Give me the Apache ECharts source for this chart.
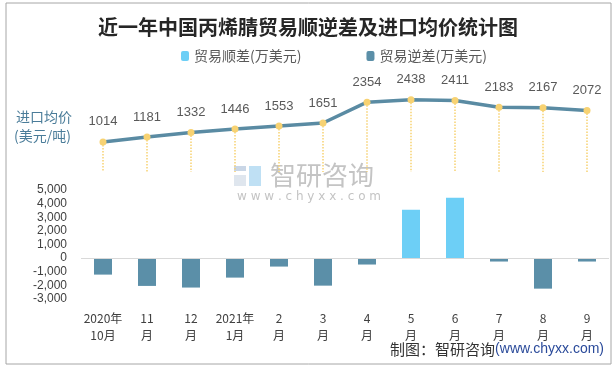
<!DOCTYPE html>
<html>
<head>
<meta charset="utf-8">
<script src="https://cdn.jsdelivr.net/npm/echarts@6/dist/echarts.min.js"></script>
<style>html,body{margin:0;padding:0;background:#fff}#c{width:616px;height:369px}</style>
</head>
<body>
<div id="c"></div>
<script>
const categories = ['2020年\n10月','11\n月','12\n月','2021年\n1月','2\n月','3\n月','4\n月','5\n月','6\n月','7\n月','8\n月','9\n月'];
const surplus = [null,null,null,null,null,null,null,3550,4430,null,null,null];
const deficit = [-1210,-2040,-2160,-1430,-620,-2020,-470,null,null,-250,-2240,-250];
const avgPrice = [1014,1181,1332,1446,1553,1651,2354,2438,2411,2183,2167,2072];
const barTicks = {min:-3000, max:5000, interval:1000};

const FONT = '"Noto Sans CJK SC","Microsoft YaHei",sans-serif';
const chart = echarts.init(document.getElementById('c'), null, {renderer:'canvas'});

const dropLines = avgPrice.map((v,i)=>[{xAxis:i, yAxis:v},{xAxis:i, yAxis:0}]);

chart.setOption({
  animation:false,
  backgroundColor:'#fff',
  textStyle:{fontFamily:FONT},
  title:{
    text:'近一年中国丙烯腈贸易顺逆差及进口均价统计图',
    left:'center', top:12,
    textStyle:{fontSize:20, fontWeight:'bold', color:'#262626', fontFamily:FONT}
  },
  legend:{
    top:44, left:176, itemWidth:8, itemHeight:10, itemGap:65,
    textStyle:{fontSize:14, color:'#595959', fontFamily:FONT},
    data:['贸易顺差(万美元)','贸易逆差(万美元)']
  },
  grid:[
    {left:81, right:7, top:83, height:89},
    {left:81, right:7, top:190, height:109}
  ],
  xAxis:[
    {gridIndex:0, type:'category', data:categories, show:false, boundaryGap:true},
    {gridIndex:1, type:'category', data:categories, boundaryGap:true,
     axisLine:{show:false, onZero:false}, axisTick:{show:false},
     axisLabel:{margin:11, fontSize:12, lineHeight:17, color:'#404040', fontFamily:FONT, interval:0}}
  ],
  yAxis:[
    {gridIndex:0, type:'value', min:0, max:3000, show:false},
    {gridIndex:1, type:'value', min:barTicks.min, max:barTicks.max, interval:barTicks.interval,
     axisLine:{show:false}, axisTick:{show:false}, splitLine:{show:false},
     axisLabel:{fontSize:12, color:'#404040', margin:14, fontFamily:'"Liberation Sans",Arial,sans-serif',
       formatter:v=>v.toLocaleString('en-US')}}
  ],
  series:[
    {
      name:'进口均价', type:'line', xAxisIndex:0, yAxisIndex:0, data:avgPrice,
      symbol:'circle', symbolSize:7,
      lineStyle:{color:'#5a8ba3', width:3.5},
      itemStyle:{color:'#f7d272'},
      label:{show:true, position:'top', distance:10, fontSize:13, color:'#595959', fontFamily:'"Liberation Sans",Arial,sans-serif'},
      markLine:{silent:true, symbol:'none', label:{show:false},
        lineStyle:{color:'#f7d272', type:'dotted', width:1.5}, data:dropLines},
      z:5
    },
    {
      name:'贸易顺差(万美元)', type:'bar', xAxisIndex:1, yAxisIndex:1, stack:'t', data:surplus,
      barWidth:18, itemStyle:{color:'#6dcff6'},
      markLine:{silent:true, symbol:'none', label:{show:false},
        lineStyle:{color:'#d9d9d9', type:'solid', width:1}, data:[{yAxis:0}]}
    },
    {
      name:'贸易逆差(万美元)', type:'bar', xAxisIndex:1, yAxisIndex:1, stack:'t', data:deficit,
      barWidth:18, itemStyle:{color:'#5b8fa8'}
    }
  ],
  graphic:[
    {type:'rect', shape:{x:6, y:3, width:605, height:361}, style:{fill:'none', stroke:'#a6a6a6', lineWidth:1}, silent:true},
    {type:'text', left:16, top:110, style:{text:'进口均价', fontSize:14, fill:'#4a7c99', fontFamily:FONT}},
    {type:'text', left:14, top:129, style:{text:'(美元/吨)', fontSize:14, fill:'#4a7c99', fontFamily:FONT}},
    {type:'rect', shape:{x:234, y:166, width:12, height:5}, style:{fill:'#c9d6e6'}, silent:true, z:-1},
    {type:'rect', shape:{x:234, y:175, width:12, height:11}, style:{fill:'#dfe6ee'}, silent:true, z:-1},
    {type:'rect', shape:{x:249, y:166, width:12, height:20}, style:{fill:'#bfe0f4'}, silent:true, z:-1},
    {type:'text', left:270, top:162, style:{text:'智研咨询', fontSize:26, fill:'#c4c4c4', fontFamily:FONT}, silent:true, z:-1},
    {type:'text', left:237, top:191, style:{text:'w w w . c h y x x . c o m', fontSize:12, fill:'#c4c4c4', fontFamily:'"DejaVu Sans",sans-serif'}, silent:true, z:-1},
    {type:'text', right:12, top:342, style:{
      text:'{a|制图：智研咨询}{b|(www.chyxx.com)}',
      rich:{a:{fontSize:15, fill:'#333', fontFamily:FONT}, b:{fontSize:14, fill:'#2a4a9a', fontFamily:'"Liberation Sans",Arial,sans-serif'}}
    }}
  ]
});
</script>
</body>
</html>
